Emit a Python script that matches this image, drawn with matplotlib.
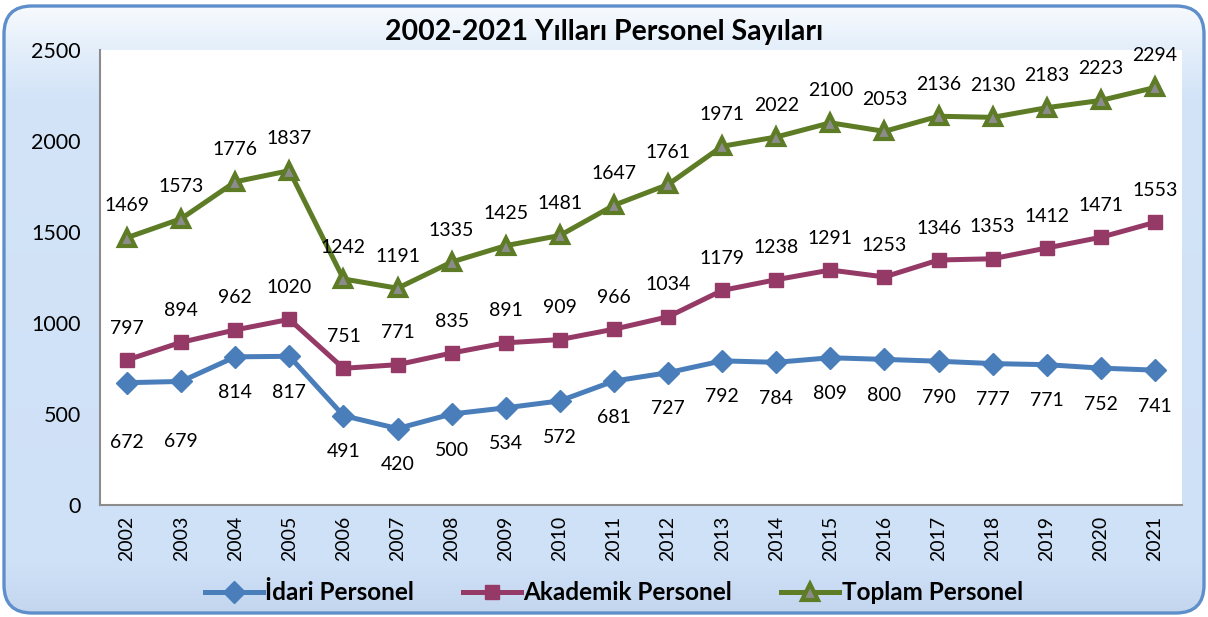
import numpy as np
import matplotlib
matplotlib.use("Agg")
import matplotlib.pyplot as plt
from matplotlib.patches import FancyBboxPatch
from matplotlib.colors import LinearSegmentedColormap

# data
years = [str(y) for y in range(2002, 2022)]
idari = [672, 679, 814, 817, 491, 420, 500, 534, 572, 681, 727, 792, 784, 809, 800, 790, 777, 771, 752, 741]
akademik = [797, 894, 962, 1020, 751, 771, 835, 891, 909, 966, 1034, 1179, 1238, 1291, 1253, 1346, 1353, 1412, 1471, 1553]
toplam = [1469, 1573, 1776, 1837, 1242, 1191, 1335, 1425, 1481, 1647, 1761, 1971, 2022, 2100, 2053, 2136, 2130, 2183, 2223, 2294]

plt.rcParams['font.family'] = ['Lato', 'DejaVu Sans']

W, H = 1208, 617
fig = plt.figure(figsize=(W / 100, H / 100), dpi=100)
fig.patch.set_facecolor('white')

# background frame (pixel coords)
bg = fig.add_axes([0, 0, 1, 1], zorder=0)
bg.set_xlim(0, W)
bg.set_ylim(0, H)
bg.axis('off')
frame = FancyBboxPatch((4, 4), W - 8, H - 10, boxstyle="round,pad=0,rounding_size=28",
                       facecolor='none', edgecolor='#5F8FCB', linewidth=2.4, zorder=3)
bg.add_patch(frame)
cmap = LinearSegmentedColormap.from_list('bgfade', [
    (0.0, '#C3D6EE'), (0.08, '#CFE1F7'), (0.85, '#D3E4F8'), (0.94, '#E6F0FB'), (1.0, '#F7FAFE')])
grad = np.linspace(0, 1, 256).reshape(-1, 1)
im = bg.imshow(grad, extent=(4, W - 4, 4, H - 6), origin='lower', cmap=cmap, aspect='auto', zorder=1)
im.set_clip_path(frame)

ax = fig.add_axes([100 / W, 1 - 505 / H, 1082 / W, 455 / H], zorder=2)
ax.set_facecolor('white')
x = np.arange(len(years))

c_idari = '#4A7EBB'
c_akad = '#953A67'
c_top = '#5E7B26'

ax.plot(x, idari, color=c_idari, lw=3.6, marker='D', ms=11, mfc=c_idari, mec=c_idari,
        label='İdari Personel', zorder=3)
ax.plot(x, akademik, color=c_akad, lw=3.6, marker='s', ms=10, mfc=c_akad, mec=c_akad,
        label='Akademik Personel', zorder=3)
ax.plot(x, toplam, color=c_top, lw=3.6, marker='^', ms=12, mfc='#8C8C8C', mec=c_top, mew=3,
        label='Toplam Personel', zorder=3)

# data labels
nudge_idari = {0: -17, 1: -17}
for i in range(len(years)):
    ax.annotate(str(idari[i]), (x[i], idari[i]), xytext=(0, -26 + nudge_idari.get(i, 0)),
                textcoords='offset points', ha='center', va='center', fontsize=14)
    ax.annotate(str(akademik[i]), (x[i], akademik[i]), xytext=(0, 23),
                textcoords='offset points', ha='center', va='center', fontsize=14)
    ax.annotate(str(toplam[i]), (x[i], toplam[i]), xytext=(0, 23),
                textcoords='offset points', ha='center', va='center', fontsize=14)

ax.set_xlim(-0.5, len(years) - 0.5)
ax.set_ylim(0, 2500)
ax.set_yticks([0, 500, 1000, 1500, 2000, 2500])
ax.set_xticks(x)
ax.set_xticklabels(years, rotation=90, fontsize=14)
ax.tick_params(axis='y', labelsize=15.5, length=0, pad=14)
ax.tick_params(axis='x', length=0, pad=8)
for s in ['top', 'right']:
    ax.spines[s].set_visible(False)
for s in ['left', 'bottom']:
    ax.spines[s].set_color('#8C8C8C')
    ax.spines[s].set_linewidth(1.5)

fig.text(0.5, 1 - 32 / H, '2002-2021 Yılları Personel Sayıları', ha='center', va='center',
         fontsize=20.5, fontweight='bold')

leg = fig.legend(loc='center', bbox_to_anchor=(0.508, 1 - 593 / H), ncol=3, frameon=False,
                 prop={'weight': 'bold', 'size': 17.5}, handlelength=2.4, columnspacing=2.0,
                 handletextpad=0.1)

fig.savefig('out.png', dpi=100)
